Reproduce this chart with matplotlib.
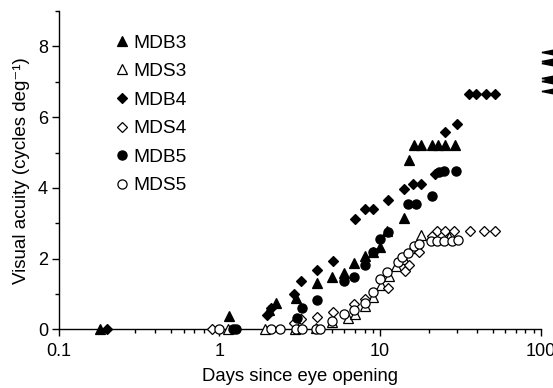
import matplotlib
matplotlib.use("Agg")
import matplotlib.pyplot as plt
from matplotlib.ticker import FixedLocator, MultipleLocator, LogLocator, NullFormatter

plt.rcParams.update({"font.family": ["Liberation Sans", "DejaVu Sans"], "font.size": 13})

# days since eye opening / visual acuity (cycles deg-1)
mdb3_x = [0.18, 1.15, 2.05, 2.24, 3.0, 4.05, 5.05, 6.0, 6.9, 8.0, 9.0, 10.0, 11.1, 14.0, 15.1,
          16.2, 18.0, 21.1, 23.0, 25.3, 29.1]
mdb3_y = [0.0, 0.37, 0.55, 0.74, 0.9, 1.31, 1.48, 1.61, 1.88, 2.09, 2.2, 2.33, 2.77, 3.15, 4.8,
          5.2, 5.2, 5.2, 5.2, 5.2, 5.2]

mds3_x = [1.14, 1.93, 2.95, 4.0, 5.05, 6.3, 7.0, 8.1, 9.0, 10.1, 11.3, 12.6, 14.0, 15.8, 18.0, 22.0, 26.7]
mds3_y = [0.0, 0.0, 0.0, 0.05, 0.2, 0.32, 0.45, 0.66, 0.93, 1.25, 1.5, 1.78, 2.0, 2.3, 2.68, 2.62, 2.6]

mdb4_x = [0.2, 1.98, 2.1, 2.9, 3.24, 4.05, 5.07, 6.95, 8.0, 9.0, 11.15, 14.1, 16.0, 18.0, 22.0,
          25.3, 30.0, 35.6, 39.7, 45.2, 51.7]
mdb4_y = [0.0, 0.42, 0.6, 1.0, 1.36, 1.68, 1.93, 3.13, 3.4, 3.4, 3.67, 3.97, 4.12, 4.12, 4.38,
          5.58, 5.8, 6.65, 6.65, 6.65, 6.65]

mds4_x = [0.9, 2.9, 3.22, 4.05, 5.07, 6.9, 8.0, 11.2, 14.3, 15.2, 17.4, 21.1, 22.6, 25.3, 28.7,
          36.0, 44.0, 51.7]
mds4_y = [0.0, 0.17, 0.29, 0.34, 0.5, 0.72, 0.86, 1.17, 1.65, 1.83, 2.2, 2.65, 2.78, 2.78, 2.78,
          2.78, 2.78, 2.78]

mdb5_x = [1.22, 1.27, 3.02, 3.25, 4.03, 5.95, 6.9, 8.0, 9.0, 10.0, 11.15, 14.9, 16.8, 21.1, 23.2,
          25.1, 29.8]
mdb5_y = [0.0, 0.0, 0.32, 0.61, 0.83, 1.37, 1.48, 1.82, 2.2, 2.56, 2.75, 3.55, 3.55, 3.76, 4.46,
          4.47, 4.47]

mds5_x = [0.99, 2.1, 2.4, 2.98, 3.25, 4.0, 4.25, 5.05, 6.0, 6.9, 8.0, 9.0, 10.0, 11.0, 13.0, 13.7,
          14.9, 16.2, 17.4, 20.6, 22.6, 24.9, 27.8, 30.6]
mds5_y = [0.0, 0.0, 0.0, 0.0, 0.0, 0.0, 0.0, 0.25, 0.45, 0.56, 0.76, 1.05, 1.42, 1.62, 1.92, 2.05,
          2.16, 2.35, 2.42, 2.5, 2.5, 2.5, 2.5, 2.52]

# adult acuities, shown as arrowheads at the right edge
adult_x = [110, 110, 110, 110, 110, 110]
adult_y = [7.84, 7.60, 7.52, 7.12, 7.03, 6.74]

series = [
    ("MDB3", mdb3_x, mdb3_y, "^", "black", 7.2),
    ("MDS3", mds3_x, mds3_y, "^", "white", 7.2),
    ("MDB4", mdb4_x, mdb4_y, "D", "black", 5.6),
    ("MDS4", mds4_x, mds4_y, "D", "white", 5.6),
    ("MDB5", mdb5_x, mdb5_y, "o", "black", 6.6),
    ("MDS5", mds5_x, mds5_y, "o", "white", 6.6),
]

fig = plt.figure(figsize=(5.53, 3.88), dpi=100)
ax = fig.add_axes([0.1058, 0.1508, 0.8725, 0.8209])

for lab, xs, ys, mk, fc, ms in series:
    ax.plot(xs, ys, ls="none", marker=mk, ms=ms, mfc=fc, mec="black", mew=0.9,
            label=lab, clip_on=False, zorder=3)

arrow = [(-1, 0), (1, 0.4), (1, -0.4), (-1, 0)]
ax.plot(adult_x, adult_y, ls="none", marker=arrow, ms=9.5, color="black", clip_on=False)

ax.set_xscale("log")
ax.set_xlim(0.1, 100)
ax.set_ylim(0, 9)
ax.xaxis.set_major_locator(FixedLocator([0.1, 1, 10, 100]))
ax.set_xticklabels(["0.1", "1", "10", "100"])
ax.xaxis.set_minor_locator(LogLocator(base=10, subs=range(2, 10)))
ax.xaxis.set_minor_formatter(NullFormatter())
ax.yaxis.set_major_locator(FixedLocator([0, 2, 4, 6, 8]))
ax.yaxis.set_minor_locator(MultipleLocator(1))

for s in ("top", "right"):
    ax.spines[s].set_visible(False)
for s in ("left", "bottom"):
    ax.spines[s].set_linewidth(1.0)
ax.tick_params(which="major", direction="out", length=5, width=1.0, labelsize=13)
ax.tick_params(axis="x", which="major", pad=4.5)
ax.tick_params(axis="y", which="major", pad=2.5)
ax.tick_params(which="minor", direction="out", length=3.2, width=1.0)

ax.set_xlabel("Days since eye opening", fontsize=13.3, labelpad=6)
ax.set_ylabel("Visual acuity (cycles deg\u207b\u00b9)", fontsize=13.5, labelpad=5.5)

ax.legend(loc="upper left", bbox_to_anchor=(0.1163, 0.927), frameon=False, fontsize=13.8,
          handlelength=0.8, handletextpad=0.17, labelspacing=0.58, borderaxespad=0, borderpad=0)

fig.savefig("out.png", dpi=100)
